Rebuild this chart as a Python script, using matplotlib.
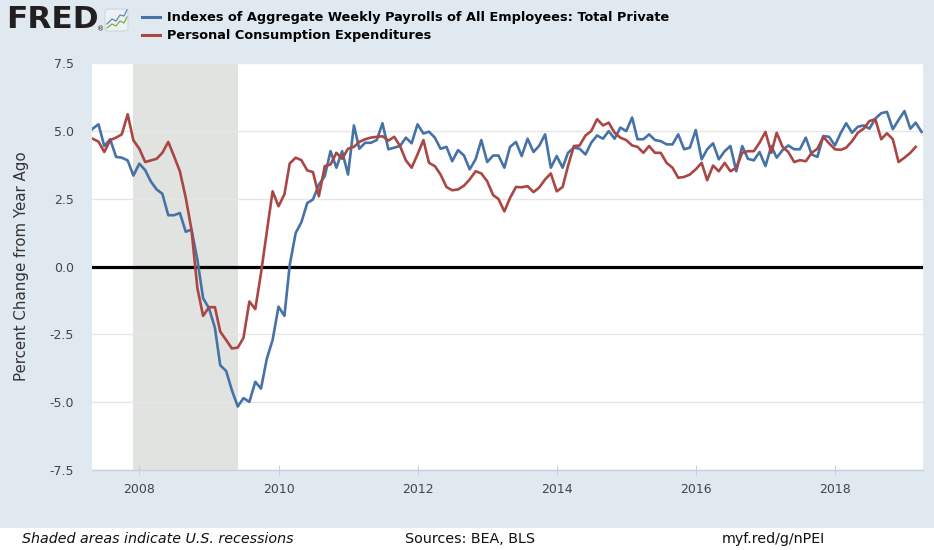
import numpy as np
import pandas as pd
import matplotlib
matplotlib.use('Agg')
import matplotlib.pyplot as plt
import matplotlib.dates as mdates
from matplotlib.lines import Line2D
from matplotlib.patches import Rectangle, FancyBboxPatch

# Variacion porcentual anual, datos mensuales desde abril 2007
payrolls = [
    4.85, 5.08, 5.24, 4.44, 4.69, 4.04, 4.01, 3.91, 3.35, 3.79, 3.55, 3.14,
    2.84, 2.68, 1.89, 1.89, 1.97, 1.28, 1.36, 0.25, -1.17, -1.54, -2.26, -3.64,
    -3.85, -4.56, -5.16, -4.85, -4.99, -4.25, -4.50, -3.39, -2.71, -1.48, -1.82, 0.06,
    1.23, 1.63, 2.34, 2.47, 3.02, 3.33, 4.25, 3.64, 4.25, 3.39, 5.20, 4.34,
    4.56, 4.56, 4.66, 5.28, 4.32, 4.38, 4.44, 4.75, 4.54, 5.24, 4.90, 4.97,
    4.75, 4.34, 4.41, 3.88, 4.29, 4.09, 3.58, 3.95, 4.66, 3.85, 4.09, 4.09,
    3.64, 4.41, 4.59, 4.07, 4.71, 4.22, 4.45, 4.87, 3.64, 4.07, 3.64, 4.19,
    4.38, 4.34, 4.13, 4.56, 4.83, 4.71, 4.99, 4.71, 5.12, 4.99, 5.49, 4.69,
    4.69, 4.87, 4.66, 4.62, 4.50, 4.50, 4.87, 4.32, 4.38, 5.03, 3.95, 4.32,
    4.54, 3.95, 4.25, 4.44, 3.51, 4.44, 3.97, 3.91, 4.22, 3.70, 4.44, 4.01,
    4.29, 4.46, 4.32, 4.32, 4.75, 4.13, 4.04, 4.81, 4.78, 4.46, 4.93, 5.28,
    4.93, 5.15, 5.20, 5.08, 5.45, 5.65, 5.70, 5.06, 5.40, 5.73, 5.08, 5.30,
    4.96,
]
pce = [
    4.75, 4.71, 4.60, 4.22, 4.66, 4.75, 4.87, 5.61, 4.65, 4.34, 3.85, 3.91,
    3.97, 4.19, 4.59, 4.07, 3.51, 2.53, 1.36, -0.80, -1.82, -1.50, -1.50, -2.40,
    -2.71, -3.02, -2.99, -2.63, -1.29, -1.57, -0.25, 1.30, 2.77, 2.22, 2.66, 3.80,
    4.01, 3.92, 3.54, 3.48, 2.59, 3.70, 3.76, 4.19, 3.97, 4.34, 4.41, 4.59,
    4.69, 4.75, 4.78, 4.80, 4.64, 4.78, 4.44, 3.91, 3.64, 4.13, 4.66, 3.82,
    3.70, 3.39, 2.93, 2.81, 2.84, 2.98, 3.21, 3.51, 3.43, 3.14, 2.63, 2.49,
    2.03, 2.53, 2.93, 2.92, 2.96, 2.74, 2.91, 3.21, 3.43, 2.77, 2.93, 3.70,
    4.44, 4.46, 4.83, 4.99, 5.43, 5.20, 5.30, 4.93, 4.75, 4.66, 4.46, 4.41,
    4.19, 4.44, 4.19, 4.19, 3.82, 3.64, 3.27, 3.30, 3.39, 3.58, 3.82, 3.18,
    3.72, 3.51, 3.82, 3.51, 3.64, 4.19, 4.25, 4.25, 4.56, 4.96, 4.19, 4.93,
    4.41, 4.22, 3.85, 3.92, 3.88, 4.19, 4.34, 4.78, 4.54, 4.32, 4.30, 4.38,
    4.62, 4.93, 5.08, 5.36, 5.43, 4.69, 4.91, 4.69, 3.85, 4.01, 4.19, 4.41,
]
fechas_pay = pd.date_range('2007-04-01', periods=len(payrolls), freq='MS')
fechas_pce = pd.date_range('2007-04-01', periods=len(pce), freq='MS')

recesion = (pd.Timestamp('2007-12-01'), pd.Timestamp('2009-06-01'))
yticks = [-7.5, -5.0, -2.5, 0.0, 2.5, 5.0, 7.5]

azul = '#4572A7'
rojo = '#AA4643'
fondo = '#E1E9F0'
eje = '#C5D0E0'

W, H = 934, 550
fig = plt.figure(figsize=(W / 100, H / 100), dpi=100)
fig.patch.set_facecolor(fondo)
fig.patches.append(Rectangle((0, 0), 1, 22 / H, transform=fig.transFigure,
                             facecolor='white', edgecolor='none', zorder=0))

ax = fig.add_axes([91.7 / W, 1 - 470 / H, (923.3 - 91.7) / W, (470 - 63) / H])
ax.set_facecolor('white')

ax.axvspan(recesion[0], recesion[1], color='#E1E3E1', lw=0, zorder=0)
for y in yticks:
    ax.axhline(y, color='#E6E6E6', lw=1, zorder=1)
ax.axhline(0, color='black', lw=2.3, zorder=2)

ax.plot(fechas_pay, payrolls, color=azul, lw=1.9, zorder=3)
ax.plot(fechas_pce, pce, color=rojo, lw=1.9, zorder=3)

ax.set_xlim(pd.Timestamp('2007-04-26'), pd.Timestamp('2019-04-10'))
ax.set_ylim(-7.5, 7.5)
ax.set_yticks(yticks)
ax.set_yticklabels([f'{v:.1f}' for v in yticks])
ax.xaxis.set_major_locator(mdates.YearLocator(base=2))
ax.xaxis.set_major_formatter(mdates.DateFormatter('%Y'))

for s in ['left', 'top', 'right']:
    ax.spines[s].set_visible(False)
ax.spines['bottom'].set_color(eje)
ax.spines['bottom'].set_linewidth(1)
ax.tick_params(axis='x', direction='inout', length=7, color=eje,
               labelcolor='#444444', labelsize=9, pad=6)
ax.tick_params(axis='y', length=0, labelcolor='#444444', labelsize=9, pad=12.7)
ax.set_ylabel('Percent Change from Year Ago', fontsize=10.8, color='#333333')
ax.yaxis.set_label_coords(-(91.7 - 29) / (923.3 - 91.7), 0.5)

# Cabecera: logo y leyenda
fig.text(6 / W, 1 - 19 / H, 'FRED', fontsize=22.5, fontweight='heavy',
         color='#231F20', va='center', ha='left')
fig.text(97 / W, 1 - 29 / H, '®', fontsize=5, color='#231F20', va='center')
icono = FancyBboxPatch((105 / W, 1 - 31 / H), 23 / W, 22 / H,
                       boxstyle='round,pad=0,rounding_size=0.004',
                       transform=fig.transFigure, facecolor='#EEF1F4',
                       edgecolor='#C8CFD6', lw=0.6)
fig.patches.append(icono)
ix = np.array([107, 112, 116, 120, 124, 127]) / W
iy_azul = 1 - np.array([24, 19, 21, 15, 16, 10]) / H
iy_verde = 1 - np.array([28, 24, 26, 21, 23, 17]) / H
fig.lines.append(Line2D(ix, iy_azul, transform=fig.transFigure, color='#5B88B8', lw=0.9))
fig.lines.append(Line2D(ix, iy_verde, transform=fig.transFigure, color='#7BB241', lw=0.9))

series = [
    (azul, 'Indexes of Aggregate Weekly Payrolls of All Employees: Total Private', 17),
    (rojo, 'Personal Consumption Expenditures', 35),
]
for color, texto, ypx in series:
    fig.lines.append(Line2D([142 / W, 160 / W], [1 - ypx / H] * 2,
                            transform=fig.transFigure, color=color, lw=2.2))
    fig.text(167 / W, 1 - ypx / H, texto, fontsize=9.25, fontweight='bold',
             color='black', va='center', ha='left')

# Pie
fig.text(22 / W, 1 - 539 / H, 'Shaded areas indicate U.S. recessions',
         fontsize=10.3, style='italic', color='#111111', va='center')
fig.text(405 / W, 1 - 539 / H, 'Sources: BEA, BLS', fontsize=10.3,
         color='#111111', va='center')
fig.text(722 / W, 1 - 539 / H, 'myf.red/g/nPEI', fontsize=10.3,
         color='#111111', va='center')

fig.savefig('out.png', dpi=100, facecolor=fig.get_facecolor())
